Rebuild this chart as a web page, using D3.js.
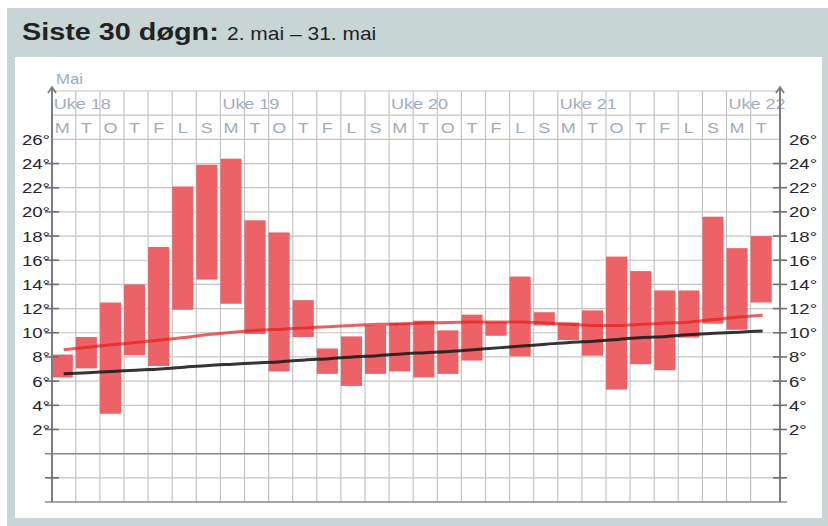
<!DOCTYPE html>
<html>
<head>
<meta charset="utf-8">
<script src="https://cdn.jsdelivr.net/npm/d3@7"></script>
<style>
  html, body { margin: 0; padding: 0; background: #ffffff; }
  svg { display: block; }
  text { font-family: "Liberation Sans", Arial, sans-serif; }
</style>
</head>
<body>
<svg id="chart" width="828" height="526"></svg>
<script>
// ---- data ----
const titleBold = "Siste 30 døgn:";
const titleRange = "2. mai – 31. mai";
const monthLabel = "Mai";
const weekLabels = ["Uke 18", "Uke 19", "Uke 20", "Uke 21", "Uke 22"];
const weekStartDay = [0, 7, 14, 21, 28];
const dayLetters = ["M","T","O","T","F","L","S","M","T","O","T","F","L","S","M","T","O","T","F","L","S","M","T","O","T","F","L","S","M","T"];
const tempMax = [8.2, 9.65, 12.5, 14.0, 17.1, 22.1, 23.9, 24.4, 19.3, 18.3, 12.7, 8.7, 9.7, 10.6, 10.8, 11.0, 10.2, 11.5, 10.9, 14.65, 11.7, 10.85, 11.85, 16.3, 15.1, 13.5, 13.5, 19.6, 17.0, 18.0];
const tempMin = [6.3, 7.05, 3.3, 8.15, 7.25, 11.9, 14.4, 12.4, 9.9, 6.8, 9.65, 6.6, 5.6, 6.6, 6.8, 6.3, 6.6, 7.7, 9.75, 8.05, 10.6, 9.4, 8.1, 5.3, 7.4, 6.9, 9.6, 10.75, 10.25, 12.5];
const normalMax = [8.6, 8.8, 9.0, 9.2, 9.4, 9.6, 9.85, 10.05, 10.2, 10.3, 10.4, 10.5, 10.6, 10.7, 10.75, 10.8, 10.85, 10.9, 10.9, 10.9, 10.8, 10.7, 10.6, 10.6, 10.7, 10.8, 10.9, 11.1, 11.3, 11.45];
const normalMin = [6.6, 6.7, 6.8, 6.9, 7.0, 7.15, 7.3, 7.4, 7.5, 7.6, 7.75, 7.85, 8.0, 8.1, 8.25, 8.35, 8.45, 8.6, 8.75, 8.9, 9.05, 9.2, 9.3, 9.45, 9.6, 9.7, 9.85, 9.95, 10.05, 10.15];
const labelTicks = [2, 4, 6, 8, 10, 12, 14, 16, 18, 20, 22, 24, 26];
const markTicks = [-2, 2, 4, 6, 8, 10, 12, 14, 16, 18, 20, 22, 24];
const yMin = -4, yMax = 30;

// ---- layout ----
const svg = d3.select("#chart");
const W = 828, H = 526;
const leftAxisX = 52, rightAxisX = 780;
const sx = 1.2; // horizontal text stretch seen in reference

const x = d3.scaleLinear().domain([0, 30]).range([51.7, 774.7]);
const y = d3.scaleLinear().domain([yMin, yMax]).range([502, 91]);
const colW = x(1) - x(0);

// panel
svg.append("rect").attr("x", 7).attr("y", 8).attr("width", W - 7).attr("height", H - 8).attr("fill", "#c8d5d5");
svg.append("rect").attr("x", 15).attr("y", 57).attr("width", 807).attr("height", 461).attr("fill", "#ffffff");

function stretchedText(g, tx, ty, str, opts) {
  const t = g.append("text")
    .attr("transform", `translate(${tx},${ty}) scale(${sx},1)`)
    .text(str);
  Object.entries(opts || {}).forEach(([k, v]) => t.attr(k, v));
  return t;
}
// title
const tg = svg.append("g");
stretchedText(tg, 22, 40, titleBold, {"font-size": 24, "font-weight": "bold", "fill": "#222"});
stretchedText(tg, 227, 40, titleRange, {"font-size": 17.5, "fill": "#222"});

// grid
const grid = svg.append("g");
const hLines = d3.range(yMin + 2, yMax + 1, 2).filter(v => v !== 0);
grid.selectAll("line.h").data(hLines).enter().append("line")
  .attr("x1", leftAxisX).attr("x2", rightAxisX)
  .attr("y1", d => y(d)).attr("y2", d => y(d))
  .attr("stroke", "#c4c4c4").attr("stroke-width", 1.2);
grid.selectAll("line.v").data(d3.range(1, 30)).enter().append("line")
  .attr("x1", d => x(d)).attr("x2", d => x(d))
  .attr("y1", y(yMax)).attr("y2", y(yMin))
  .attr("stroke", "#c4c4c4").attr("stroke-width", 1.2);

// zero and bottom lines
grid.selectAll("line.z").data([0, yMin]).enter().append("line")
  .attr("x1", 45).attr("x2", 787)
  .attr("y1", d => y(d)).attr("y2", d => y(d))
  .attr("stroke", "#8a8a8a").attr("stroke-width", 1.5);

// header texts
const hdr = svg.append("g").attr("fill", "#a0adbb");
stretchedText(hdr, 56, 84, monthLabel, {"font-size": 14});
weekLabels.forEach((w, i) => {
  stretchedText(hdr, x(weekStartDay[i]) + 2, 109, w, {"font-size": 15});
});
dayLetters.forEach((d, i) => {
  stretchedText(hdr, x(i) + colW / 2 - 1.5, 133, d, {"font-size": 15, "text-anchor": "middle"});
});

// bars
const bars = svg.append("g");
bars.selectAll("rect").data(tempMax.map((v, i) => ({i, hi: v, lo: tempMin[i]}))).enter().append("rect")
  .attr("x", d => x(d.i))
  .attr("width", colW - 3)
  .attr("y", d => y(d.hi))
  .attr("height", d => y(d.lo) - y(d.hi))
  .attr("fill", "#ec6266");

// normal lines
const line = d3.line().x((d, i) => x(i) + colW / 2).y(d => y(d)).curve(d3.curveMonotoneX);
svg.append("path").datum(normalMin).attr("d", line)
  .attr("fill", "none").attr("stroke", "#1e1e1e").attr("stroke-width", 3).attr("stroke-opacity", 0.9);
svg.append("path").datum(normalMax).attr("d", line)
  .attr("fill", "none").attr("stroke", "#e61c1c").attr("stroke-width", 3).attr("stroke-opacity", 0.7);

// axes
const axes = svg.append("g");
[leftAxisX, rightAxisX].forEach(ax => {
  axes.append("line").attr("x1", ax).attr("x2", ax).attr("y1", 88).attr("y2", y(yMin))
    .attr("stroke", "#7d7d7d").attr("stroke-width", 2);
  axes.append("path").attr("d", `M${ax - 4},${93} L${ax},${87} L${ax + 4},${93}`)
    .attr("fill", "none").attr("stroke", "#7d7d7d").attr("stroke-width", 1.8);
});
const tickG = axes.append("g").attr("stroke", "#6e6e6e").attr("stroke-width", 1.6);
markTicks.forEach(v => {
  tickG.append("line").attr("x1", 45).attr("x2", 59).attr("y1", y(v)).attr("y2", y(v));
  tickG.append("line").attr("x1", 773).attr("x2", 787).attr("y1", y(v)).attr("y2", y(v));
});

// y labels
const lab = svg.append("g").attr("fill", "#26262e");
labelTicks.forEach(v => {
  stretchedText(lab, 50, y(v) + 5.5, v + "°", {"font-size": 15.5, "text-anchor": "end"});
  stretchedText(lab, 789, y(v) + 5.5, v + "°", {"font-size": 15.5});
});
</script>
</body>
</html>
